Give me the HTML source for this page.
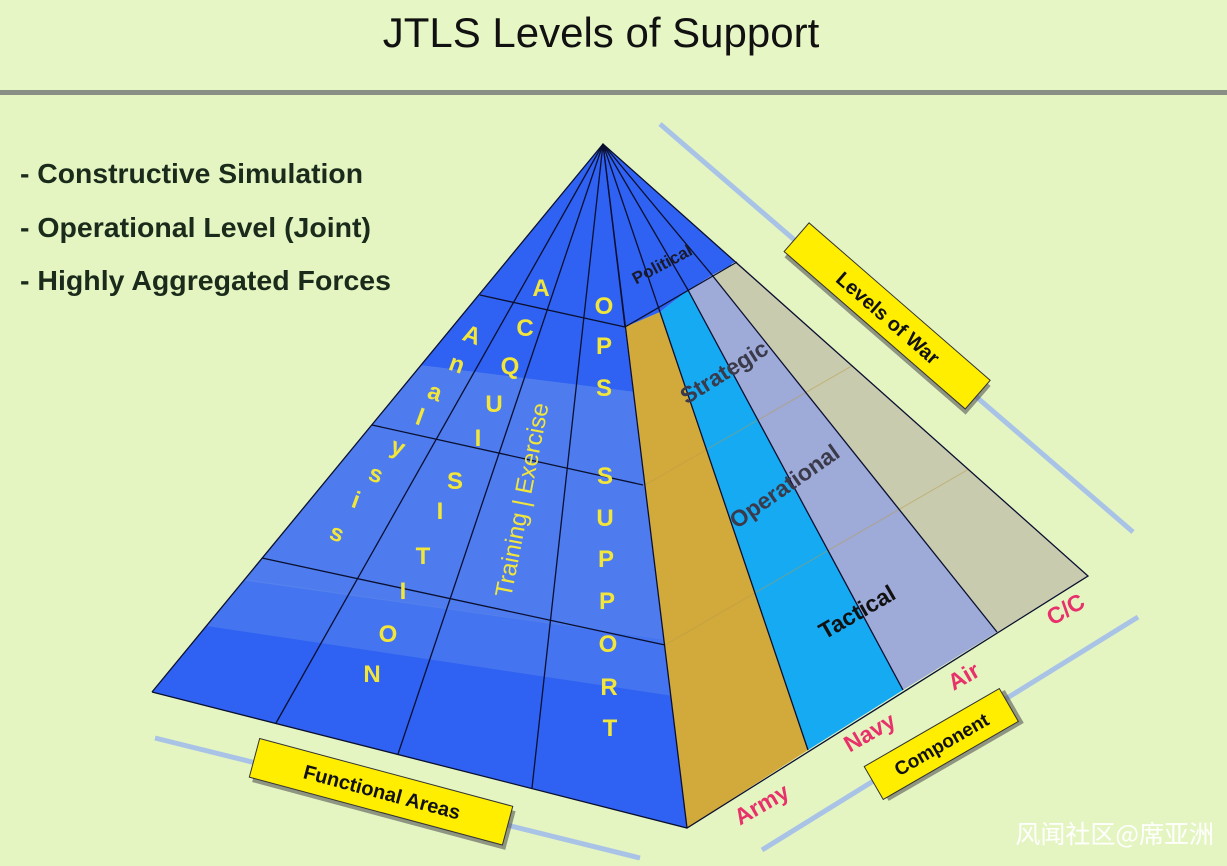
<!DOCTYPE html>
<html><head><meta charset="utf-8"><style>
html,body{margin:0;padding:0;}
body{width:1227px;height:866px;background:#e4f5c2;overflow:hidden;position:relative;font-family:"Liberation Sans",sans-serif;}
</style></head><body>
<svg width="1227" height="866" viewBox="0 0 1227 866" xmlns="http://www.w3.org/2000/svg" style="position:absolute;left:0;top:0">
<defs>
<clipPath id="front"><polygon points="603,144 152,692 687,828 625,327"/></clipPath>
<clipPath id="right"><polygon points="625,327 737,262 1088,576 687,828"/></clipPath>
</defs>
<rect x="0" y="0" width="1227" height="90" fill="#e6f6c4"/>
<text x="601" y="47" font-size="42" text-anchor="middle" fill="#111" font-family="Liberation Sans">JTLS Levels of Support</text>
<rect x="0" y="90" width="1227" height="5" fill="#8a8f86"/>
<g font-family="Liberation Sans" font-weight="bold" font-size="28" fill="#1b2b1b">
<text x="20" y="183" textLength="343" lengthAdjust="spacingAndGlyphs">- Constructive Simulation</text>
<text x="20" y="237" textLength="351" lengthAdjust="spacingAndGlyphs">- Operational Level (Joint)</text>
<text x="20" y="290" textLength="371" lengthAdjust="spacingAndGlyphs">- Highly Aggregated Forces</text>
</g>
<line x1="660" y1="124" x2="1133" y2="532" stroke="#a9c3e6" stroke-width="5"/>
<line x1="155" y1="738" x2="640" y2="858" stroke="#a9c3e6" stroke-width="5"/>
<line x1="762" y1="850" x2="1138" y2="617" stroke="#a9c3e6" stroke-width="5"/>
<polygon points="603,144 152,692 687,828 625,327 735,268" fill="#2f62f2"/>
<g clip-path="url(#front)">
<polygon points="300,350 700,400 700,645 100,560" fill="#5a86ec" opacity="0.75"/>
<polygon points="100,558 700,645 700,700 100,610" fill="#5a86ec" opacity="0.5"/>
</g>
<polygon points="625,327 660,312 808,750 687,828" fill="#d2aa3c"/>
<polygon points="660,312 688,290 903,690 808,750" fill="#16aaf2"/>
<polygon points="688,290 712,275 997,632 903,690" fill="#9eaad8"/>
<polygon points="712,275 737,262 1088,576 997,632" fill="#c8cbae"/>
<polygon points="603,144 735,262 712,275 688,290 660,312 625,327" fill="#2f62f2"/>
<g stroke="#b89a45" stroke-width="1" opacity="0.5" clip-path="url(#right)">
<line x1="645" y1="485" x2="1088" y2="230"/><line x1="665" y1="645" x2="1088" y2="400"/>
</g>
<g stroke="#0a0f30" stroke-width="1.3" fill="none">
<polyline points="152,692 603,144 1088,576 687,828 152,692"/>
<line x1="603" y1="144" x2="687" y2="828"/>
<line x1="480" y1="295" x2="625" y2="327"/>
<line x1="625" y1="327" x2="737" y2="262"/>
<line x1="372" y1="425" x2="643" y2="485"/>
<line x1="262" y1="558" x2="665" y2="645"/>
<line x1="603" y1="144" x2="276" y2="723"/>
<line x1="603" y1="144" x2="398" y2="754"/>
<line x1="603" y1="144" x2="532" y2="788"/>
<line x1="603" y1="144" x2="625" y2="327"/>
<line x1="603" y1="144" x2="660" y2="312"/>
<line x1="603" y1="144" x2="688" y2="290"/>
<line x1="603" y1="144" x2="712" y2="275"/>
<line x1="660" y1="312" x2="808" y2="750"/>
<line x1="688" y1="290" x2="903" y2="690"/>
<line x1="712" y1="275" x2="997" y2="632"/>
</g>
<g fill="#f2e63a" font-family="Liberation Sans" font-size="24" font-weight="bold" text-anchor="middle">
<text x="472" y="343" transform="rotate(20 472 335)">A</text>
<text x="457" y="372" transform="rotate(20 457 364)">n</text>
<text x="435" y="400" transform="rotate(20 435 392)">a</text>
<text x="420" y="425" transform="rotate(20 420 417)">l</text>
<text x="398" y="455" transform="rotate(20 398 447)">y</text>
<text x="376" y="482" transform="rotate(20 376 474)">s</text>
<text x="356" y="508" transform="rotate(20 356 500)">i</text>
<text x="337" y="541" transform="rotate(20 337 533)">s</text>
<text x="541" y="296">A</text>
<text x="525" y="336">C</text>
<text x="510" y="374">Q</text>
<text x="494" y="412">U</text>
<text x="478" y="446">I</text>
<text x="455" y="489">S</text>
<text x="440" y="519">I</text>
<text x="423" y="564">T</text>
<text x="403" y="599">I</text>
<text x="388" y="642">O</text>
<text x="372" y="682">N</text>
<text x="604" y="314">O</text>
<text x="604" y="354">P</text>
<text x="604" y="396">S</text>
<text x="605" y="484">S</text>
<text x="605" y="526">U</text>
<text x="606" y="567">P</text>
<text x="607" y="609">P</text>
<text x="608" y="652">O</text>
<text x="609" y="695">R</text>
<text x="610" y="736">T</text>
<text x="522" y="508" font-weight="normal" transform="rotate(-79 522 500)">Training  |  Exercise</text>
</g>
<g font-family="Liberation Sans" fill="#1a1a2a" text-anchor="middle">
<text x="662" y="270" font-size="17" font-weight="bold" transform="rotate(-28 662 264)">Political</text>
<text x="724" y="380" font-size="23" font-weight="bold" fill="#3a3a4a" transform="rotate(-32 724 372)">Strategic</text>
<text x="785" y="494" font-size="23" font-weight="bold" fill="#3a3a4a" transform="rotate(-35 785 487)">Operational</text>
<text x="857" y="620" font-size="23" font-weight="bold" fill="#111" transform="rotate(-30 857 612)">Tactical</text>
</g>
<g font-family="Liberation Sans" font-weight="bold" font-size="23" fill="#e8306a" text-anchor="middle">
<text x="762" y="812" transform="rotate(-30 762 805)">Army</text>
<text x="870" y="740" transform="rotate(-30 870 733)">Navy</text>
<text x="964" y="684" transform="rotate(-30 964 677)">Air</text>
<text x="1066" y="617" transform="rotate(-30 1066 610)">C/C</text>
</g>
<g transform="translate(888,318) rotate(41)">
<rect x="-118" y="-16" width="240" height="38" fill="#555" opacity="0.6"/>
<rect x="-122" y="-20" width="240" height="38" fill="#ffee00" stroke="#333" stroke-width="1"/>
<text x="0" y="7" font-family="Liberation Sans" font-weight="bold" font-size="20" text-anchor="middle" fill="#111">Levels of War</text>
</g>
<g transform="translate(382,792) rotate(15)">
<rect x="-128" y="-16" width="262" height="40" fill="#555" opacity="0.6"/>
<rect x="-132" y="-20" width="262" height="40" fill="#ffee00" stroke="#333" stroke-width="1"/>
<text x="0" y="7" font-family="Liberation Sans" font-weight="bold" font-size="20" text-anchor="middle" fill="#111">Functional Areas</text>
</g>
<g transform="translate(943,743) rotate(-30)">
<rect x="-76" y="-15" width="156" height="38" fill="#555" opacity="0.6"/>
<rect x="-80" y="-19" width="156" height="38" fill="#ffee00" stroke="#333" stroke-width="1"/>
<text x="-2" y="7" font-family="Liberation Sans" font-weight="bold" font-size="19" text-anchor="middle" fill="#111">Component</text>
</g>
<text x="1214" y="843" font-family="'Noto Sans CJK SC',sans-serif" font-size="25" fill="#ffffff" text-anchor="end">风闻社区@席亚洲</text>
</svg>
</body></html>
